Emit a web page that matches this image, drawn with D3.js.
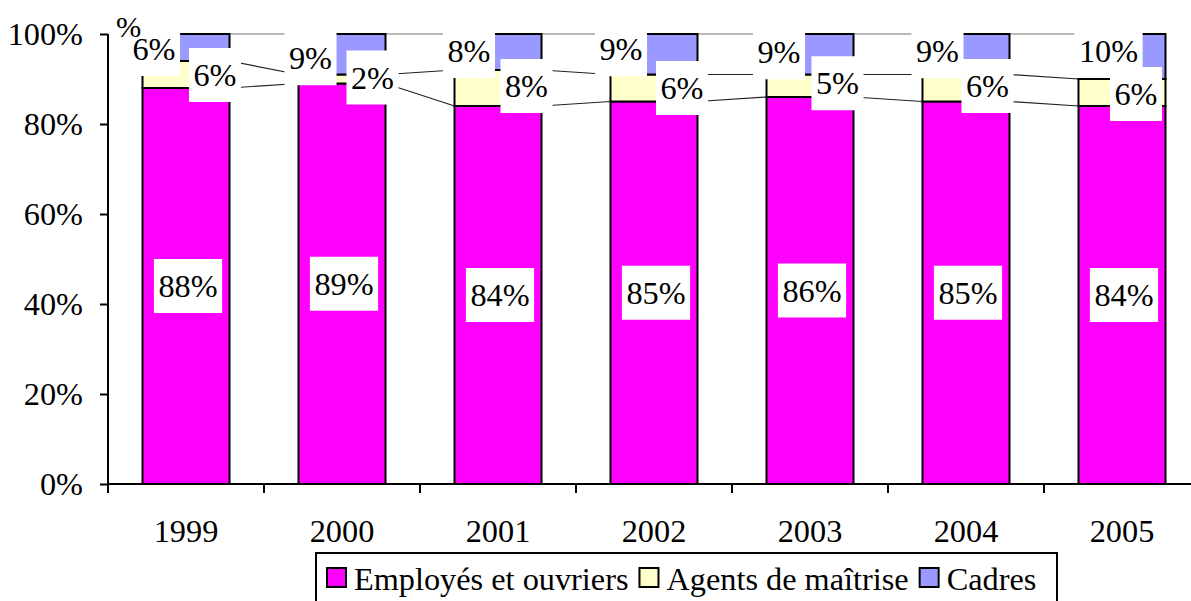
<!DOCTYPE html>
<html>
<head>
<meta charset="utf-8">
<script src="https://cdn.jsdelivr.net/npm/d3@7"></script>
<style>
  html, body { margin: 0; padding: 0; background: #fff; }
  svg { display: block; }
  text { font-family: "Liberation Serif", "Times New Roman", "DejaVu Serif", serif; fill: #000; }
</style>
</head>
<body>
<svg id="chart" width="1191" height="601"></svg>
<script>
// ---- data ----
const years = ["1999", "2000", "2001", "2002", "2003", "2004", "2005"];
const seriesNames = ["Employés et ouvriers", "Agents de maîtrise", "Cadres"];
const employes = [88, 89, 84, 85, 86, 85, 84];
const agents   = [6, 2, 8, 6, 5, 6, 6];
const cadres   = [6, 9, 8, 9, 9, 9, 10];
const yTicks   = [0, 20, 40, 60, 80, 100];

// ---- label layout (offsets of the label centre from segment centre, px) ----
const offEmployes = [[2,0],[2,0],[2,0],[2,0],[2,0],[2,0],[2,0]];
const offAgents   = [[29,0.5],[30.5,-1.5],[28.5,-2],[28,0],[27.5,-2.5],[21.5,-2],[14,1.5]];
const offCadres   = [[-32,1.5],[-31.5,4],[-29,-1],[-33,-5],[-31,-2],[-28.5,-3],[-13.5,-5.5]];

const colors = ["#FF00FF", "#FFFFCC", "#9999FF"];
const FS = 32.3;
const FONT = '"Liberation Serif", "Times New Roman", serif';

const svg = d3.select("#chart");
const x = d3.scaleBand().domain(years).range([108, 1200]).paddingInner(0.4423).paddingOuter(0.2212);
const y = d3.scaleLinear().domain([0, 100]).range([484, 34]);

const values = [employes, agents, cadres];
const offsets = [offEmployes, offAgents, offCadres];
const rows = years.map((yr, i) => ({ year: yr, e: employes[i], a: agents[i], c: cadres[i] }));
const stack = d3.stack().keys(["e", "a", "c"])(rows);

// ---- series lines ----
const gLines = svg.append("g");
stack.forEach((layer, si) => {
  for (let i = 0; i < years.length - 1; i++) {
    gLines.append("line")
      .attr("x1", x(years[i]) + x.bandwidth())
      .attr("y1", y(layer[i][1]))
      .attr("x2", x(years[i + 1]))
      .attr("y2", y(layer[i + 1][1]))
      .attr("stroke", si === 2 ? "#777" : "#222").attr("stroke-width", 1.2);
  }
});

// ---- bars ----
const gBars = svg.append("g");
stack.forEach((layer, si) => {
  gBars.selectAll(null).data(layer).enter().append("rect")
    .attr("x", (d, i) => x(years[i]))
    .attr("y", d => y(d[1]))
    .attr("width", x.bandwidth())
    .attr("height", d => y(d[0]) - y(d[1]))
    .attr("fill", colors[si])
    .attr("stroke", "#000").attr("stroke-width", 2);
});

// ---- axes ----
const yAxis = svg.append("g").attr("transform", "translate(108,0)")
  .call(d3.axisLeft(y).tickValues(yTicks).tickSize(8).tickPadding(17).tickFormat(d => d + "%"));
yAxis.attr("font-family", FONT);
yAxis.select(".domain").attr("stroke", "#000").attr("stroke-width", 2).attr("d", "M0,34V484");
yAxis.selectAll(".tick line").attr("stroke", "#000").attr("stroke-width", 2);
yAxis.selectAll(".tick text").attr("font-size", FS).attr("dy", "0.34em");

const xAxis = svg.append("g").attr("transform", "translate(0,484)");
xAxis.append("line").attr("x1", 108).attr("x2", 1200).attr("y1", 0).attr("y2", 0)
  .attr("stroke", "#000").attr("stroke-width", 2);
d3.range(years.length + 1).forEach(k => {
  xAxis.append("line").attr("x1", 108 + k * x.step()).attr("x2", 108 + k * x.step())
    .attr("y1", 0).attr("y2", 9).attr("stroke", "#000").attr("stroke-width", 2);
});
xAxis.selectAll(null).data(years).enter().append("text")
  .attr("x", d => x(d) + x.bandwidth() / 2)
  .attr("y", 58)
  .attr("text-anchor", "middle").attr("font-size", FS)
  .text(d => d);

// ---- data labels ----
const gLabels = svg.append("g");
[2, 1, 0].forEach(si => {
  stack[si].forEach((d, i) => {
    const cx = x(years[i]) + x.bandwidth() / 2 + offsets[si][i][0];
    const cy = (y(d[0]) + y(d[1])) / 2 + offsets[si][i][1];
    const g = gLabels.append("g");
    const rect = g.append("rect").attr("fill", "#fff");
    const t = g.append("text")
      .attr("x", cx).attr("y", cy + 11)
      .attr("text-anchor", "middle").attr("font-size", FS)
      .text(values[si][i] + "%");
    const w = t.node().getComputedTextLength() + 9;
    rect.attr("x", cx - w / 2).attr("y", cy - 27).attr("width", w).attr("height", 54);
  });
});
// stray fragment of an overlapped label
svg.append("text").attr("x", 116).attr("y", 37).attr("font-size", FS - 2).text("%");

// ---- legend ----
const leg = svg.append("g");
leg.append("rect").attr("x", 316).attr("y", 553).attr("width", 741).attr("height", 70)
  .attr("fill", "#fff").attr("stroke", "#000").attr("stroke-width", 2);
let lx = 327;
seriesNames.forEach((name, si) => {
  leg.append("rect").attr("x", lx).attr("y", 568).attr("width", 19).attr("height", 19)
    .attr("fill", colors[si]).attr("stroke", "#000").attr("stroke-width", 2);
  const t = leg.append("text").attr("x", lx + 27).attr("y", 590).attr("font-size", FS).text(name);
  lx += 27 + t.node().getComputedTextLength() + 11;
});
</script>
</body>
</html>
